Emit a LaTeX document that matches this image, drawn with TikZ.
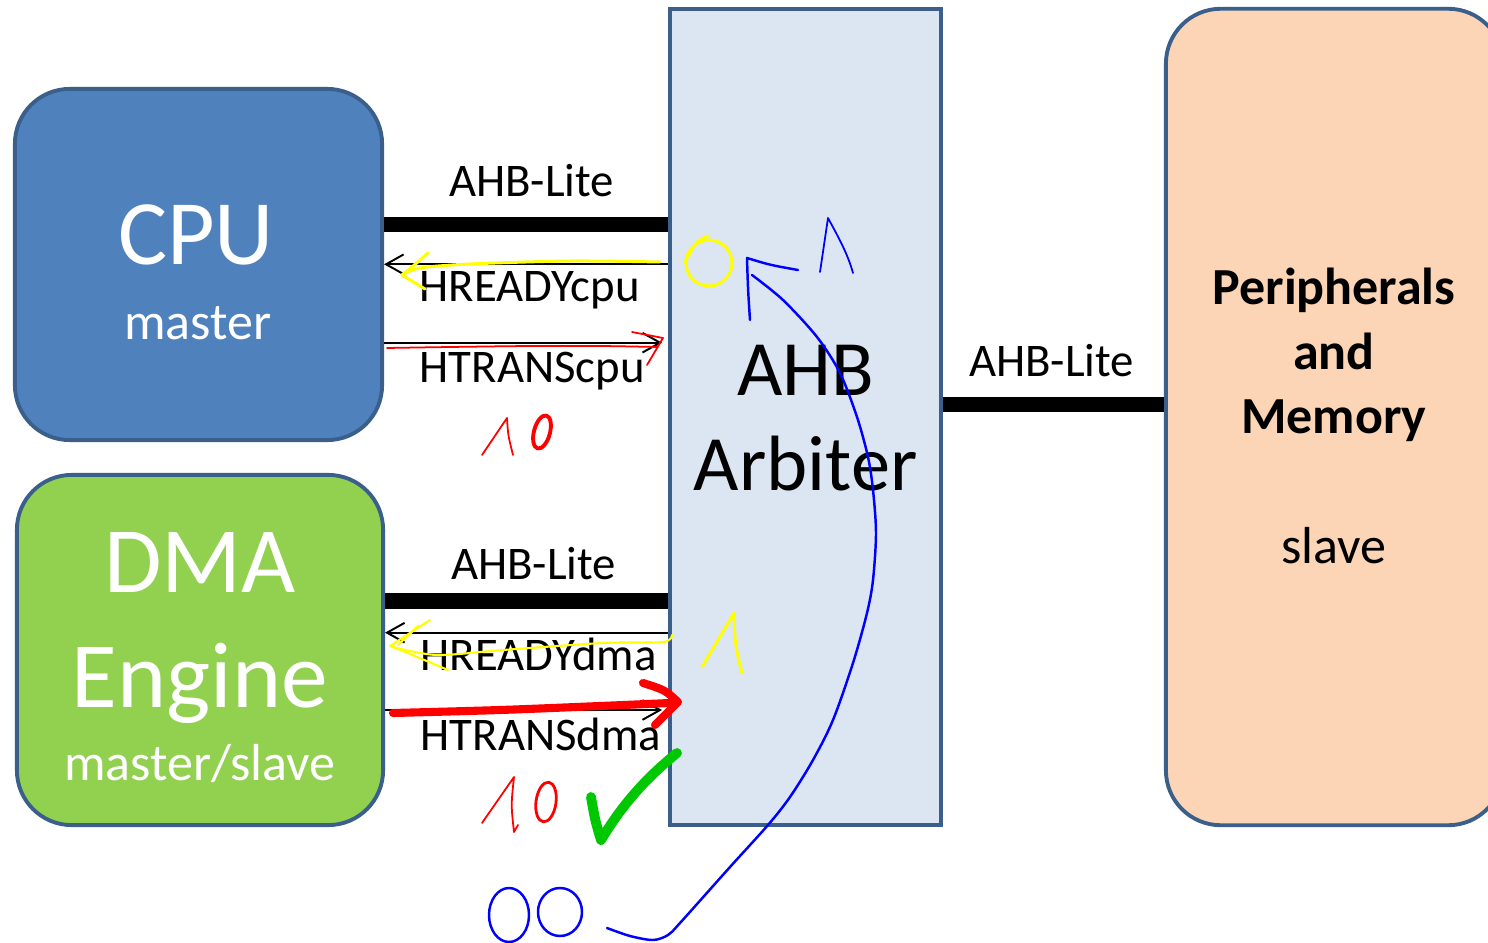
\documentclass[tikz,border=0pt]{standalone}
\usepackage{fontspec}
\setmainfont{Carlito}
\usepackage{tikz}
\usetikzlibrary{arrows.meta,positioning}
\definecolor{AHBCpuFill}{HTML}{4F81BD}
\definecolor{AHBDmaFill}{HTML}{92D050}
\definecolor{AHBArbFill}{HTML}{DCE6F2}
\definecolor{AHBSlvFill}{HTML}{FBD5B5}
\definecolor{AHBEdge}{HTML}{3A5F8B}
\definecolor{InkYellow}{HTML}{FFFF00}
\definecolor{InkRed}{HTML}{FF0000}
\definecolor{InkBlue}{HTML}{0000FF}
\definecolor{InkGreen}{HTML}{00C800}
\tikzset{
ahbmaster/.style={draw=AHBEdge, line width=1.1pt, rounded corners=15.6pt, inner sep=0pt,
  minimum width=3.67cm, minimum height=3.51cm},
ahbarbiter/.style={draw=AHBEdge, fill=AHBArbFill, line width=1.1pt, inner sep=0pt,
  minimum width=2.71cm, minimum height=8.16cm},
ahbslave/.style={draw=AHBEdge, fill=AHBSlvFill, line width=1.1pt, rounded corners=15.6pt,
  inner sep=0pt, minimum width=3.37cm, minimum height=8.16cm},
ahbbus/.style={line width=4.3pt, draw=black},
ahbsig/.style={-{Straight Barb[length=5pt, width=5.6pt]}, line width=0.55pt, draw=black},
ahblabel/.style={font=\fontsize{13.3}{16}\selectfont, inner sep=0pt},
ahbtitle/.style={text=white, align=center, inner sep=0pt},
ink/.style={line cap=round, line join=round},
inkyellow/.style={ink, draw=InkYellow, line width=0.85pt},
inkred/.style={ink, draw=InkRed, line width=0.5pt},
inkblue/.style={ink, draw=InkBlue, line width=0.7pt},
inkgreen/.style={ink, draw=InkGreen, line width=2.8pt}
}

\begin{document}
\begin{tikzpicture}[x=0.01cm, y=-0.01cm]
\useasboundingbox (0,0) rectangle (1488,943);
\clip (0,0) rectangle (1488,943);

\node[ahbmaster, fill=AHBCpuFill] (cpu) at (198.5,264.5) {};
\node[ahbmaster, fill=AHBDmaFill, minimum width=3.66cm, minimum height=3.5cm] (dma) at (200,650) {};
\node[ahbarbiter] (arb) at (805.5,417) {};
\node[ahbslave] (slv) at (1334.5,417) {};

\node[ahbtitle, font=\fontsize{26.2}{31}\selectfont, anchor=base] (cpuName) at (196,265) {CPU};
\node[ahbtitle, font=\fontsize{14.8}{18}\selectfont, anchor=base] (cpuRole) at (198,340) {master};
\node[ahbtitle, font=\fontsize{26.6}{32.7}\selectfont, anchor=base] (dmaName) at (200,707) {DMA\\Engine};
\node[ahbtitle, font=\fontsize{14.8}{18}\selectfont, anchor=base] (dmaRole) at (200,780) {master/slave};
\node[align=center, inner sep=0pt, font=\fontsize{22.3}{27}\selectfont, anchor=base] (arbName) at (805.5,490) {AHB\\Arbiter};
\node[align=center, inner sep=0pt, font=\fontsize{14.8}{18.35}\selectfont, anchor=base] (slvName) at (1334,563)
  {\textbf{Peripherals}\\\textbf{and}\\\textbf{Memory}\\[18.35pt]slave};

\coordinate (cpuBusY) at (0,224.5);
\coordinate (cpuRdyY) at (0,264.3);
\coordinate (cpuTrnY) at (0,342.7);
\coordinate (dmaBusY) at (0,601);
\coordinate (dmaRdyY) at (0,632.7);
\coordinate (dmaTrnY) at (0,710);
\coordinate (slvBusY) at (0,404.5);

\draw[ahbbus] (cpu.east |- cpuBusY) -- node[ahblabel, anchor=base, yshift=0.275cm, xshift=0.055cm] (cpuBusLbl) {AHB-Lite} (arb.west |- cpuBusY);
\draw[ahbbus] (dma.east |- dmaBusY) -- node[ahblabel, anchor=base, yshift=0.21cm, xshift=0.07cm] (dmaBusLbl) {AHB-Lite} (arb.west |- dmaBusY);
\draw[ahbbus] (arb.east |- slvBusY) -- node[ahblabel, anchor=base, yshift=0.275cm, xshift=-0.02cm] (slvBusLbl) {AHB-Lite} (slv.west |- slvBusY);

\draw[ahbsig] (arb.west |- cpuRdyY) -- (cpu.east |- cpuRdyY);
\draw[ahbsig, shorten >=1.7pt] (cpu.east |- cpuTrnY) -- (arb.west |- cpuTrnY);
\draw[ahbsig] (arb.west |- dmaRdyY) -- (dma.east |- dmaRdyY);
\draw[ahbsig, shorten >=1.7pt] (dma.east |- dmaTrnY) -- (arb.west |- dmaTrnY);

\node[ahblabel, anchor=base west] (cpuRdyLbl) at (419,301.7) {HREADYcpu};
\node[ahblabel, anchor=base west] (cpuTrnLbl) at (419,382.7) {HTRANScpu};
\node[ahblabel, anchor=base west] (dmaRdyLbl) at (420,670.7) {HREADYdma};
\node[ahblabel, anchor=base west] (dmaTrnLbl) at (420,750.7) {HTRANSdma};

\draw[inkyellow] plot[smooth] coordinates {(660,262) (570,261) (470,264) (420,268) (402,275)};
\draw[inkyellow] (428,253) .. controls (418,262) .. (402,275) -- (425,289);
\draw[inkyellow] (709,263) circle [radius=23];
\draw[inkyellow] (709,236) .. controls (697,240) .. (685,262);

\draw[inkred] plot[smooth] coordinates {(387,348) (450,347) (530,346) (600,346) (657,347)};
\draw[inkred] (632,332) -- (663,338) -- (647,365);
\draw[inkred] (482,455) -- (507,418) .. controls (508,435) .. (513,455);
\draw[inkred, line width=1.1pt, rotate around={-15:(542,432)}] (542,432) ellipse [x radius=8, y radius=17];

\draw[inkblue] plot[smooth] coordinates {(607,928) (630,936) (653,940) (668,935) (680,923) (730,867) (768,825) (790,797) (813,760) (833,720) (853,663) (867,613) (873,580) (876,533) (873,490) (868,457) (857,417) (840,373) (817,337) (783,300) (752,275)};
\draw[inkblue] (750,320) .. controls (748,290) .. (747,258) .. controls (770,265) .. (798,270);
\draw[inkblue, line width=0.5pt] (820,272) -- (828,218) .. controls (840,240) and (848,255) .. (853,273);

\draw[inkyellow, line width=0.6pt] plot[smooth] coordinates {(672,635) (663,642) (603,643) (503,650) (437,655) (393,647)};
\draw[inkyellow, line width=0.6pt] (430,620) -- (390,646) -- (403,651) -- (448,670);
\draw[inkyellow, line width=0.6pt] (418,626) -- (398,645);
\draw[inkyellow] (702,667) -- (734,613) .. controls (735,645) .. (742,673);

\draw[inkred, line width=2.3pt] plot[smooth] coordinates {(393,713) (500,710) (600,706) (670,703)};
\draw[inkred, line width=2.3pt] (643,683) .. controls (665,690) .. (678,702) .. controls (668,712) .. (655,725);

\draw[inkred] (482,823) -- (514,777) .. controls (511,805) .. (514,832) -- (518,825);
\draw[inkred, line width=0.8pt, rotate around={-8:(546,802)}] (546,802) ellipse [x radius=10, y radius=20];

\draw[inkgreen] (591,797) .. controls (595,820) .. (601,840) .. controls (625,800) and (650,775) .. (677,753);

\draw[inkblue] (509,915) ellipse [x radius=20, y radius=27];
\draw[inkblue] (560,912) ellipse [x radius=22, y radius=24];
\end{tikzpicture}
\end{document}
